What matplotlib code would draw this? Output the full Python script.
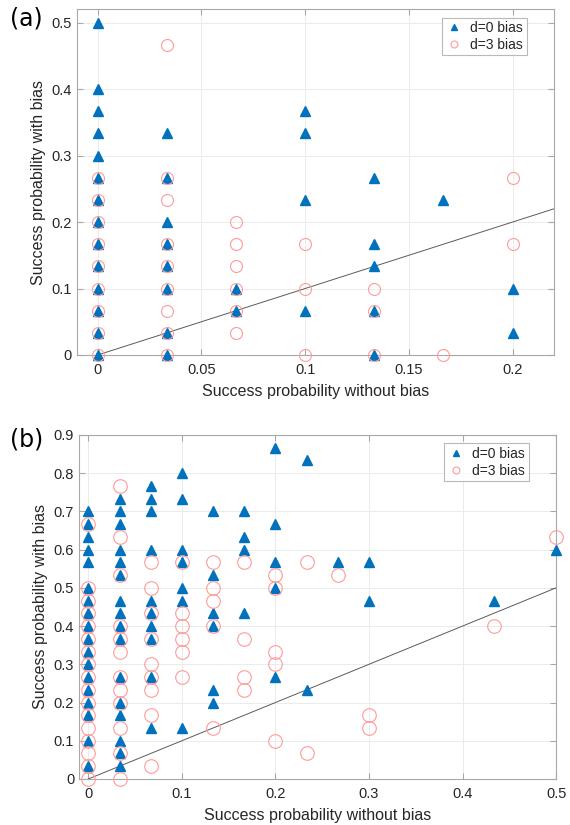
import matplotlib
matplotlib.use("Agg")
import matplotlib.pyplot as plt
import numpy as np
from matplotlib.lines import Line2D

plt.rcParams['font.family'] = ['Liberation Sans', 'DejaVu Sans']

# all values are in units of 1/30
# panel (a)
a_tri_x = [0]*14 + [1]*8 + [2]*2 + [3]*4 + [4]*5 + [5] + [6]*2
a_tri_y = [0, 1, 2, 3, 4, 5, 6, 7, 8, 9, 10, 11, 12, 15,
           0, 1, 3, 4, 5, 6, 8, 10,
           2, 3,
           2, 7, 10, 11,
           0, 2, 4, 5, 8,
           7,
           1, 3]
a_circ_x = [0]*9 + [1]*9 + [2]*6 + [3]*3 + [4]*3 + [5] + [6]*2
a_circ_y = [0, 1, 2, 3, 4, 5, 6, 7, 8,
            0, 1, 2, 3, 4, 5, 7, 8, 14,
            1, 2, 3, 4, 5, 6,
            0, 3, 5,
            0, 2, 3,
            0,
            5, 8]

# panel (b)
b_tri_x = ([0]*18 + [1]*16 + [2]*10 + [3]*7 + [4]*6 + [5]*4 + [6]*5
           + [7]*2 + [8] + [9]*2 + [13] + [15])
b_tri_y = [1, 3, 5, 6, 7, 8, 9, 10, 11, 12, 13, 14, 15, 17, 18, 19, 20, 21,
           1, 2, 3, 5, 6, 8, 11, 12, 13, 14, 16, 17, 18, 20, 21, 22,
           4, 8, 11, 12, 13, 14, 18, 21, 22, 23,
           4, 14, 15, 17, 18, 22, 24,
           6, 7, 12, 13, 16, 21,
           13, 18, 19, 21,
           8, 15, 17, 20, 26,
           7, 25,
           17,
           14, 17,
           14,
           18]
b_circ_x = ([0]*17 + [1]*12 + [2]*9 + [3]*6 + [4]*5 + [5]*4 + [6]*5
            + [7]*2 + [8] + [9]*2 + [13] + [15])
b_circ_y = [0, 1, 2, 3, 4, 5, 6, 7, 8, 9, 10, 11, 12, 13, 14, 15, 20,
            0, 2, 4, 6, 7, 8, 10, 11, 12, 16, 19, 23,
            1, 5, 7, 8, 9, 11, 13, 15, 17,
            8, 10, 11, 12, 13, 17,
            4, 12, 14, 15, 17,
            7, 8, 11, 17,
            3, 9, 10, 15, 16,
            2, 17,
            16,
            4, 5,
            12,
            19]

tri_color = '#0072BD'
circ_color = '#FF9A9A'
label_color = '#262626'


def panel(ax, tx, ty, cx, cy, xmax, ymax, xticks, yticks, csize):
    tx = np.array(tx) / 30
    ty = np.array(ty) / 30
    cx = np.array(cx) / 30
    cy = np.array(cy) / 30
    ax.plot([0, xmax], [0, xmax], color='#5a5a5a', lw=0.7, zorder=2)
    ax.plot(tx, ty, ls='none', marker='^', ms=6.6, color=tri_color,
            mec=tri_color, zorder=3, clip_on=False)
    ax.plot(cx, cy, ls='none', marker='o', ms=csize, mfc='none',
            mec=circ_color, mew=0.8, zorder=4, clip_on=False)
    ax.set_xlim(-0.01, xmax)
    ax.set_ylim(0, ymax)
    ax.set_xticks(xticks)
    ax.set_yticks(yticks)
    ax.set_xticklabels([('%g' % v) for v in xticks])
    ax.set_yticklabels([('%g' % v) for v in yticks])
    ax.grid(True, color='#ebebeb', lw=0.7)
    ax.set_axisbelow(True)
    for s in ax.spines.values():
        s.set_color('#a8a8a8')
        s.set_linewidth(0.8)
    ax.tick_params(direction='in', top=True, right=True, length=4,
                   color='#a8a8a8', labelsize=10.5, labelcolor=label_color)
    ax.tick_params(axis='x', pad=6)
    ax.set_xlabel('Success probability without bias', fontsize=11.5,
                  color=label_color, labelpad=5)
    ax.set_ylabel('Success probability with bias', fontsize=11.5,
                  color=label_color, labelpad=4)
    h = [Line2D([], [], ls='none', marker='^', ms=4.5, color=tri_color),
         Line2D([], [], ls='none', marker='o', ms=5, mfc='none',
                mec=circ_color, mew=0.8)]
    leg = ax.legend(h, ['d=0 bias', 'd=3 bias'], loc='upper right',
                    fontsize=10, frameon=True, fancybox=False,
                    handlelength=1.2, handletextpad=0.6, borderpad=0.25,
                    labelspacing=0.2, bbox_to_anchor=(0.957, 0.996))
    leg.get_frame().set_edgecolor('#a8a8a8')
    leg.get_frame().set_linewidth(0.8)
    for t in leg.get_texts():
        t.set_color(label_color)


fig = plt.figure(figsize=(5.7, 8.25), dpi=100)
ax1 = fig.add_axes([0.135, 0.5697, 0.837, 0.419])
ax2 = fig.add_axes([0.1386, 0.0558, 0.837, 0.417])

panel(ax1, a_tri_x, a_tri_y, a_circ_x, a_circ_y, 0.22, 0.52,
      [0, 0.05, 0.1, 0.15, 0.2], [0, 0.1, 0.2, 0.3, 0.4, 0.5], 8.6)
panel(ax2, b_tri_x, b_tri_y, b_circ_x, b_circ_y, 0.5, 0.9,
      [0, 0.1, 0.2, 0.3, 0.4, 0.5],
      [0, 0.1, 0.2, 0.3, 0.4, 0.5, 0.6, 0.7, 0.8, 0.9], 9.8)

fig.text(0.018, 0.977, '(a)', fontsize=17, family='DejaVu Sans', va='center')
fig.text(0.018, 0.467, '(b)', fontsize=17, family='DejaVu Sans', va='center')

fig.savefig('out.png', dpi=100)
